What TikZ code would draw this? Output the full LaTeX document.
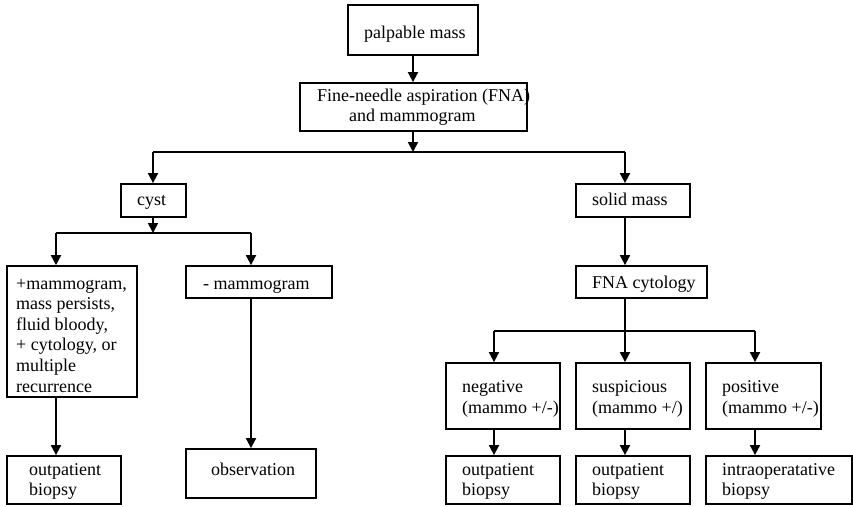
\documentclass[tikz,border=0pt]{standalone}
\usepackage{fontspec}
\setmainfont{Liberation Serif}
\usetikzlibrary{arrows.meta}
\begin{document}
\begin{tikzpicture}[x=1pt,y=-1pt,
  box/.style={draw,line width=1.8pt,rectangle,inner sep=0pt},
  txt/.style={anchor=base west,inner sep=0pt,font=\fontsize{18}{20}\selectfont},
  link/.style={line width=1.8pt},
  arr/.style={line width=1.8pt,-{Triangle[length=10pt,width=10pt]}}]
\useasboundingbox[fill=white] (0,0) rectangle (853,506);

% boxes (centre, width, height)
\node[box,minimum width=130pt,minimum height=50pt] (pm)    at (413,30) {};
\node[box,minimum width=227pt,minimum height=48pt] (fna)   at (413.5,107) {};
\node[box,minimum width=65pt, minimum height=33pt] (cyst)  at (153.5,200.5) {};
\node[box,minimum width=114pt,minimum height=33pt] (solid) at (633,200.5) {};
\node[box,minimum width=130pt,minimum height=131pt] (plus) at (72,331.5) {};
\node[box,minimum width=146pt,minimum height=32pt] (minus) at (259,282) {};
\node[box,minimum width=114pt,minimum height=48pt] (outL)  at (64,480) {};
\node[box,minimum width=130pt,minimum height=49pt] (obs)   at (251,473.5) {};
\node[box,minimum width=131pt,minimum height=32pt] (cyto)  at (641.5,282) {};
\node[box,minimum width=114pt,minimum height=66pt] (neg)   at (503,396) {};
\node[box,minimum width=114pt,minimum height=66pt] (sus)   at (633,396) {};
\node[box,minimum width=115pt,minimum height=66pt] (pos)   at (763.5,396) {};
\node[box,minimum width=114pt,minimum height=48pt] (outN)  at (503,480) {};
\node[box,minimum width=114pt,minimum height=48pt] (outS)  at (633,480) {};
\node[box,minimum width=146pt,minimum height=48pt] (intra) at (779,480) {};

% texts
\node[txt] (tpm)  at (364,38) {palpable mass};
\node[txt] (tfna1) at (317,101) {Fine-needle aspiration (FNA)};
\node[txt] (tfna2) at (349,121) {and mammogram};
\node[txt] (tcyst) at (137,205) {cyst};
\node[txt] (tsolid) at (592,205) {solid mass};
\node[txt] (tp1) at (16,289) {+mammogram,};
\node[txt] (tp2) at (16,309.6) {mass persists,};
\node[txt] (tp3) at (16,330.2) {fluid bloody,};
\node[txt] (tp4) at (16,350.8) {+ cytology, or};
\node[txt] (tp5) at (16,371.4) {multiple};
\node[txt] (tp6) at (16,392) {recurrence};
\node[txt] (tminus) at (203,289) {- mammogram};
\node[txt] (toL1) at (29,475) {outpatient};
\node[txt] (toL2) at (29,495) {biopsy};
\node[txt] (tobs) at (211,475) {observation};
\node[txt] (tcyto) at (592,288) {FNA cytology};
\node[txt] (tn1) at (462,392) {negative};
\node[txt] (tn2) at (462,413) {(mammo +/-)};
\node[txt] (ts1) at (592,392) {suspicious};
\node[txt] (ts2) at (592,413) {(mammo +/)};
\node[txt] (tq1) at (722,392) {positive};
\node[txt] (tq2) at (722,413) {(mammo +/-)};
\node[txt] (toN1) at (462,475) {outpatient};
\node[txt] (toN2) at (462,495) {biopsy};
\node[txt] (toS1) at (592,475) {outpatient};
\node[txt] (toS2) at (592,495) {biopsy};
\node[txt] (ti1) at (722,475) {intraoperatative};
\node[txt] (ti2) at (722,495) {biopsy};

% branch points
\coordinate (busA)  at (413,152);
\coordinate (busAL) at (153,152);
\coordinate (busAR) at (625,152);
\coordinate (busB)  at (153,233);
\coordinate (busBL) at (56,233);
\coordinate (busBR) at (251,233);
\coordinate (busC)  at (625,331);
\coordinate (busCL) at (494,331);
\coordinate (busCR) at (755,331);

% connectors
\draw[arr] (pm.south) -- (pm.south |- fna.north);
\draw[arr] (fna.south -| busA) -- (busA);
\draw[link] (busAL) -- (busAR);
\draw[arr] (busAL) -- (busAL |- cyst.north);
\draw[arr] (busAR) -- (busAR |- solid.north);

\draw[arr] (cyst.south -| busB) -- (busB);
\draw[link] (busBL) -- (busBR);
\draw[arr] (busBL) -- (busBL |- plus.north);
\draw[arr] (busBR) -- (busBR |- minus.north);
\draw[arr] (plus.south -| busBL) -- (busBL |- outL.north);
\draw[arr] (minus.south -| busBR) -- (busBR |- obs.north);

\draw[arr] (solid.south -| busC) -- (busC |- cyto.north);
\draw[link] (cyto.south -| busC) -- (busC);
\draw[link] (busCL) -- (busCR);
\draw[arr] (busC) -- (busC |- sus.north);
\draw[arr] (busCL) -- (busCL |- neg.north);
\draw[arr] (busCR) -- (busCR |- pos.north);
\draw[arr] (neg.south -| busCL) -- (busCL |- outN.north);
\draw[arr] (sus.south -| busC) -- (busC |- outS.north);
\draw[arr] (pos.south -| busCR) -- (busCR |- intra.north);
\end{tikzpicture}
\end{document}
